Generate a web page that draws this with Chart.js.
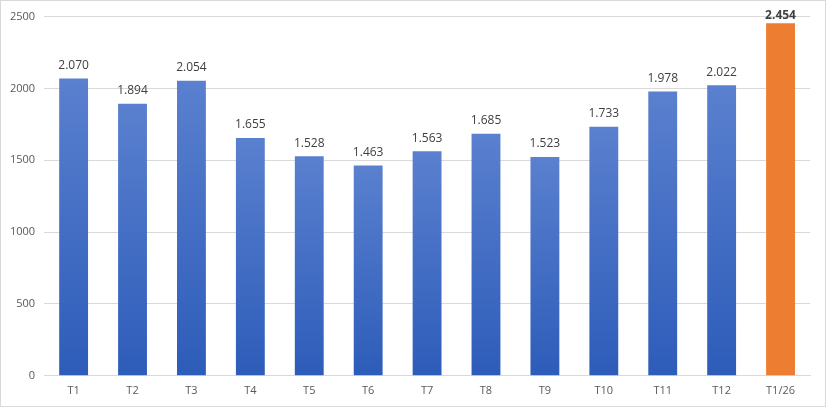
<!DOCTYPE html>
<html>
<head>
<meta charset="utf-8">
<script src="https://cdn.jsdelivr.net/npm/chart.js@4.4.1/dist/chart.umd.min.js"></script>
<style>
html,body{margin:0;padding:0;background:#fff;}
#wrap{position:absolute;left:0;top:0;width:824px;height:405px;border:1px solid #d9d9d9;}
canvas{display:block;}
</style>
</head>
<body>
<div id="wrap"><canvas id="c" width="824" height="405"></canvas></div>
<script>
const categories = ['T1','T2','T3','T4','T5','T6','T7','T8','T9','T10','T11','T12','T1/26'];
const values = [2070,1894,2054,1655,1528,1463,1563,1685,1523,1733,1978,2022,2454];
const valueLabels = ['2.070','1.894','2.054','1.655','1.528','1.463','1.563','1.685','1.523','1.733','1.978','2.022','2.454'];
const highlightIndex = 12;

const labelPlugin = {
  id: 'valueLabels',
  afterDatasetsDraw(chart) {
    const ctx = chart.ctx;
    const meta = chart.getDatasetMeta(0);
    ctx.save();
    ctx.textAlign = 'center';
    ctx.textBaseline = 'bottom';
    meta.data.forEach((bar, i) => {
      const hl = i === highlightIndex;
      ctx.font = (hl ? 'bold ' : '') + '12px "Open Sans", "Noto Sans", sans-serif';
      ctx.fillStyle = '#404040';
      ctx.fillText(valueLabels[i], bar.x, bar.y - (hl ? 2 : 7));
    });
    ctx.restore();
  }
};

function barColor(context) {
  const chart = context.chart;
  const area = chart.chartArea;
  if (context.dataIndex === highlightIndex) return '#ed7d31';
  if (!area) return '#4472c4';
  const y0 = chart.scales.y.getPixelForValue(0);
  const y1 = chart.scales.y.getPixelForValue(values[context.dataIndex]);
  const g = chart.ctx.createLinearGradient(0, y1, 0, y0);
  g.addColorStop(0, '#5a80cf');
  g.addColorStop(1, '#2d5cb9');
  return g;
}

new Chart(document.getElementById('c'), {
  type: 'bar',
  data: {
    labels: categories,
    datasets: [{
      data: values,
      backgroundColor: barColor,
      borderWidth: 0,
      barPercentage: 0.49,
      categoryPercentage: 1.0
    }]
  },
  options: {
    responsive: false,
    animation: false,
    devicePixelRatio: 1,
    layout: { padding: { left: 0, right: 15, top: 6, bottom: 1 } },
    plugins: { legend: { display: false }, tooltip: { enabled: false } },
    scales: {
      y: {
        min: 0, max: 2500,
        ticks: { stepSize: 500, color: '#595959', padding: 9,
          callback: (v) => String(v),
          font: { family: '"Open Sans", "Noto Sans", sans-serif', size: 11 } },
        grid: { color: '#d9d9d9', drawTicks: false },
        border: { display: false }
      },
      x: {
        ticks: { color: '#595959', padding: 8,
          font: { family: '"Open Sans", "Noto Sans", sans-serif', size: 11 } },
        grid: { display: false, drawTicks: false },
        border: { display: true, color: '#d9d9d9' }
      }
    }
  },
  plugins: [labelPlugin]
});
</script>
</body>
</html>
